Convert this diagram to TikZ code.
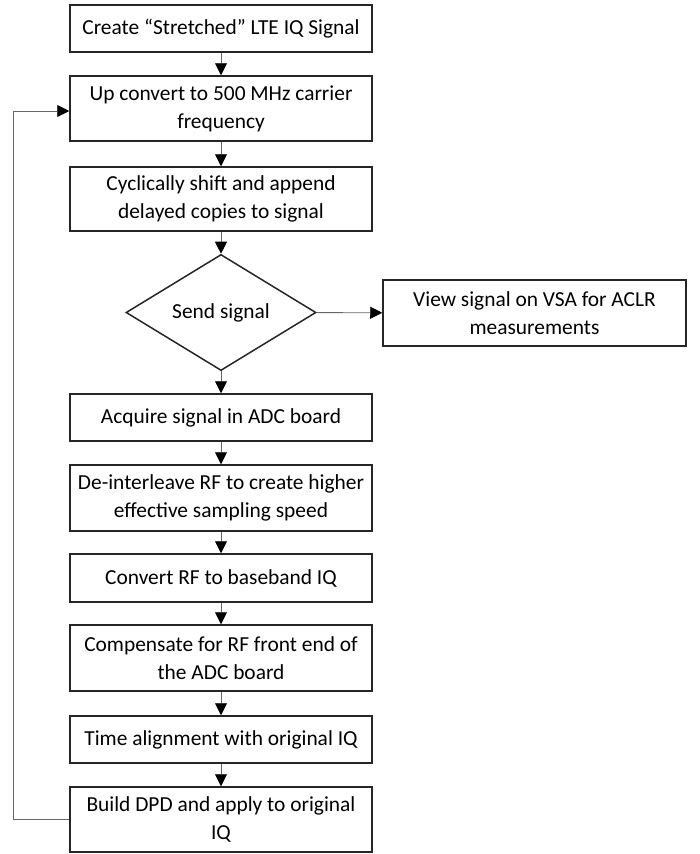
\documentclass[tikz,border=0pt]{standalone}
\usepackage{fontspec}
\setmainfont{Carlito}
\usetikzlibrary{shapes.geometric,arrows.meta}
\begin{document}
\begin{tikzpicture}[x=1pt,y=-1pt,
  box/.style={draw=black!85,line width=1.5pt,rectangle,minimum width=302pt,align=center,inner sep=0pt,font=\fontsize{21.4}{28}\selectfont},
  conn/.style={draw=black!60,line width=0.9pt,-{Triangle[length=12pt,width=12pt,fill=black,color=black]}}]
\useasboundingbox (0,0) rectangle (700,854);
\node[box,minimum height=47pt] (b1) at (221,28.5) {Create “Stretched” LTE IQ Signal};
\node[box,minimum height=65pt] (b2) at (221,108.5) {Up convert to 500 MHz carrier\\frequency};
\node[box,minimum height=64pt] (b3) at (221,199) {Cyclically shift and append\\delayed copies to signal};
\node[draw=black!85,line width=1.5pt,diamond,minimum width=190pt,minimum height=113pt,inner sep=0pt,font=\fontsize{21.4}{28}\selectfont] (d) at (221,312.5) {Send signal};
\node[box,minimum width=303pt,minimum height=66pt] (v) at (534.5,313) {View signal on VSA for ACLR\\measurements};
\node[box,minimum height=47pt] (b4) at (221,417.5) {Acquire signal in ADC board};
\node[box,minimum height=66pt] (b5) at (221,498) {De-interleave RF to create higher\\effective sampling speed};
\node[box,minimum height=48pt] (b6) at (221,578) {Convert RF to baseband IQ};
\node[box,minimum height=66pt] (b7) at (221,658) {Compensate for RF front end of\\the ADC board};
\node[box,minimum height=47pt] (b8) at (221,739.5) {Time alignment with original IQ};
\node[box,minimum height=65pt] (b9) at (221,819.5) {Build DPD and apply to original\\IQ};
\coordinate (c1) at (13,819.5);
\coordinate (c2) at (13,111);
\draw[conn] (b1) -- (b2);
\draw[conn] (b2) -- (b3);
\draw[conn] (b3) -- (d);
\draw[conn] (d) -- (v);
\draw[conn] (d) -- (b4);
\draw[conn] (b4) -- (b5);
\draw[conn] (b5) -- (b6);
\draw[conn] (b6) -- (b7);
\draw[conn] (b7) -- (b8);
\draw[conn] (b8) -- (b9);
\draw[conn] (b9.west) -- (c1) -- (c2) -- (c2 -| b2.west);
\end{tikzpicture}
\end{document}
